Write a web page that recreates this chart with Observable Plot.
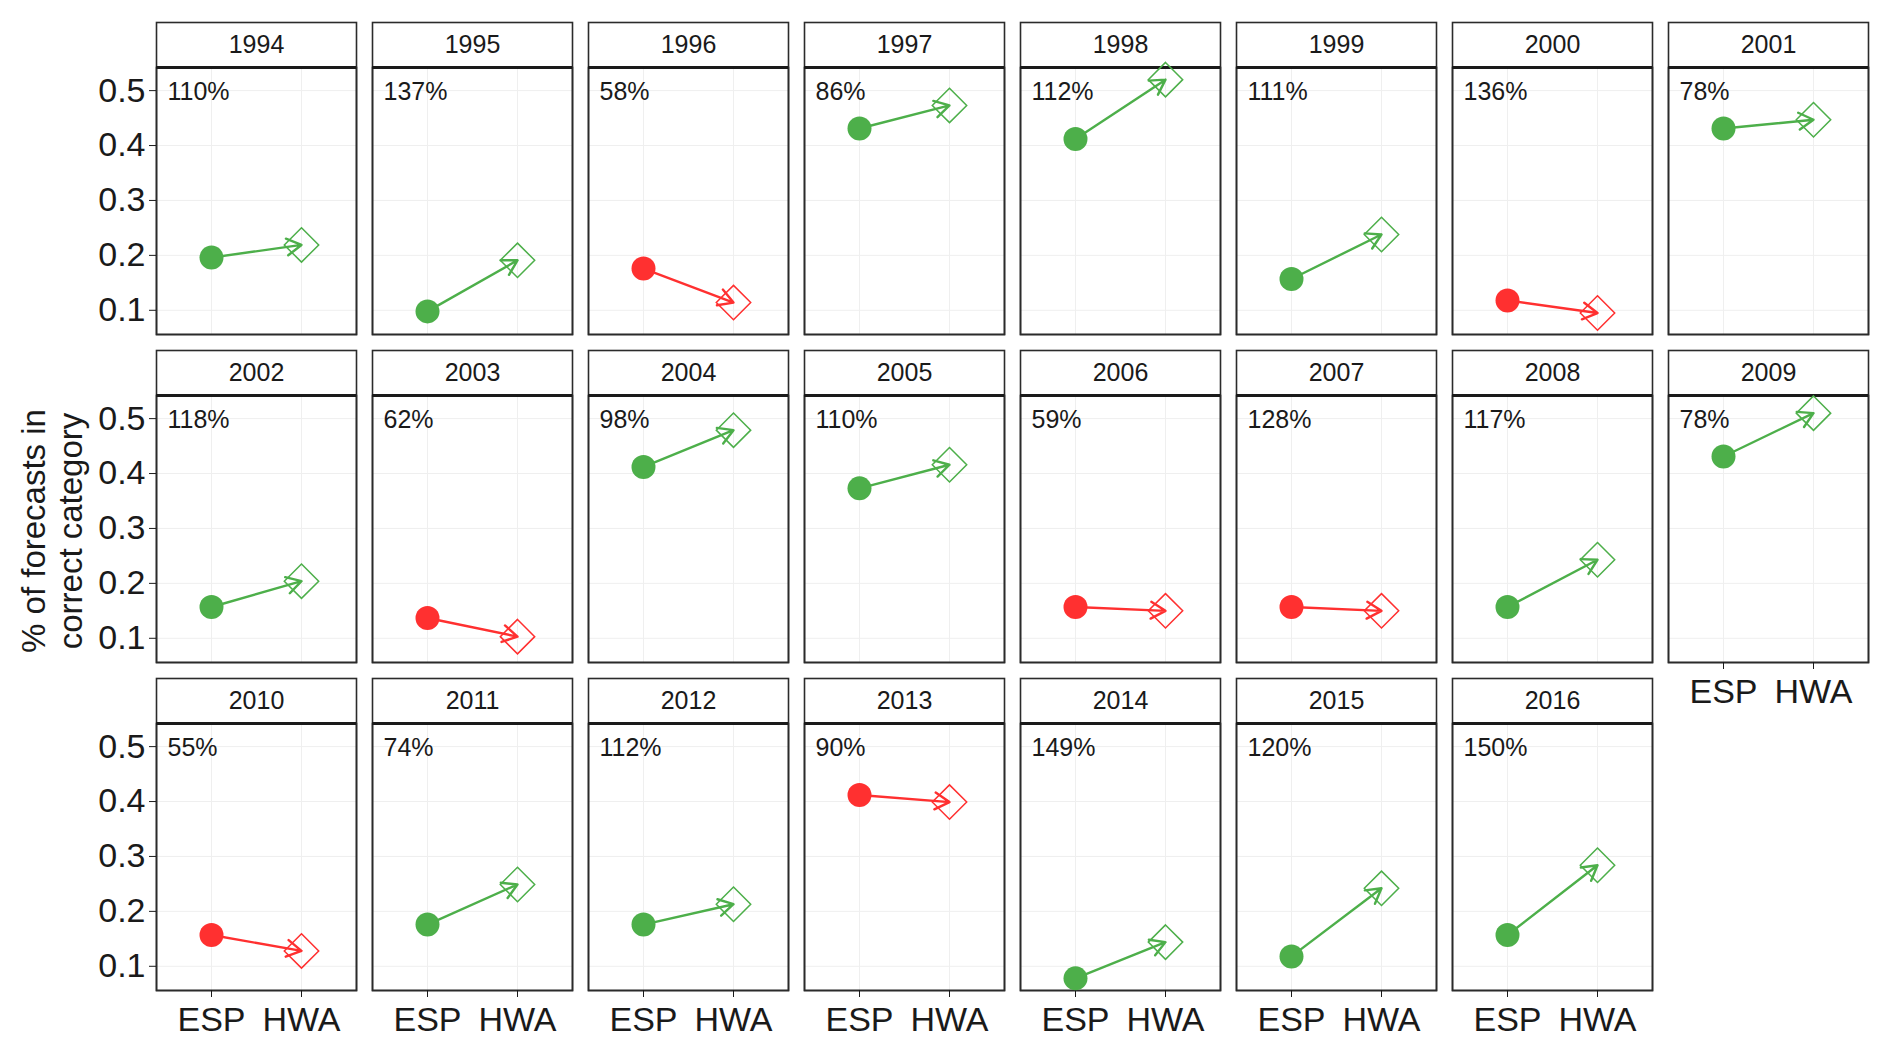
<!DOCTYPE html>
<html>
<head>
<meta charset="utf-8">
<script src="https://cdn.jsdelivr.net/npm/d3@7"></script>
<script src="https://cdn.jsdelivr.net/npm/@observablehq/plot@0.6"></script>
<style>
  html, body { margin: 0; padding: 0; background: #fff; }
  #wrap { position: relative; width: 1892px; height: 1049px; overflow: hidden; }
  #ytitle {
    position: absolute; left: 52px; top: 531px;
    transform: translate(-50%, -50%) rotate(-90deg);
    font-family: "Liberation Sans", Arial, sans-serif;
    font-size: 33px; line-height: 37px; text-align: center;
    white-space: nowrap; color: #1a1a1a;
  }
</style>
</head>
<body>
<div id="wrap">
  <div id="chart"></div>
  <div id="ytitle">% of forecasts in<br>correct category</div>
</div>
<script>
// ---- data ----
const years = [1994, 1995, 1996, 1997, 1998, 1999, 2000, 2001,
               2002, 2003, 2004, 2005, 2006, 2007, 2008, 2009,
               2010, 2011, 2012, 2013, 2014, 2015, 2016];
const espValues = [0.196, 0.098, 0.176, 0.431, 0.412, 0.157, 0.118, 0.431,
                   0.157, 0.137, 0.412, 0.373, 0.157, 0.157, 0.157, 0.431,
                   0.157, 0.176, 0.176, 0.412, 0.078, 0.118, 0.157];
const hwaValues = [0.219, 0.191, 0.114, 0.473, 0.520, 0.238, 0.095, 0.447,
                   0.204, 0.103, 0.479, 0.416, 0.150, 0.150, 0.243, 0.510,
                   0.128, 0.249, 0.213, 0.399, 0.144, 0.242, 0.284];
const pctLabels = [110, 137, 58, 86, 112, 111, 136, 78,
                   118, 62, 98, 110, 59, 128, 117, 78,
                   55, 74, 112, 90, 149, 120, 150];
const methods = ["ESP", "HWA"];
const yTicks = [0.1, 0.2, 0.3, 0.4, 0.5];
const nCols = 8;

// ---- tables for the library ----
const panels = years.map((year, i) => ({
  year, col: i % nCols, row: Math.floor(i / nCols),
  esp: espValues[i], hwa: hwaValues[i], pct: pctLabels[i],
  change: hwaValues[i] > espValues[i] ? "better" : "worse"
}));
const points = panels.flatMap(p => [
  {...p, method: methods[0], value: p.esp},
  {...p, method: methods[1], value: p.hwa}
]);
const ext = d3.extent(points, d => d.value);
const pad = (ext[1] - ext[0]) * 0.05;
const yDomain = [ext[0] - pad, ext[1] + pad];

const stripH = 45;
const font = '"Liberation Sans", Arial, sans-serif';
const facet = {fx: "col", fy: "row"};

const chart = Plot.plot({
  width: 1892, height: 1049,
  marginTop: 65.5, marginBottom: 58, marginLeft: 155, marginRight: 22,
  style: {fontFamily: font, fontSize: "25px", color: "#1a1a1a", background: "white", overflow: "visible"},
  fx: {axis: null, paddingInner: 0.0734, paddingOuter: 0},
  fy: {axis: null, paddingInner: 0.185, paddingOuter: 0},
  x: {type: "point", domain: methods, padding: 0.6},
  y: {domain: yDomain},
  color: {domain: ["better", "worse"], range: ["#4DAF4A", "#FF3030"]},
  marks: [
    Plot.gridY(yTicks, {stroke: "#efefef", strokeOpacity: 1, strokeWidth: 1}),
    Plot.gridX(methods, {stroke: "#efefef", strokeOpacity: 1, strokeWidth: 1}),
    Plot.frame({stroke: "#2b2b2b", strokeWidth: 1.6}),
    Plot.frame({insetTop: -stripH, stroke: "#2b2b2b", strokeWidth: 1.6}),
    Plot.ruleY([yDomain[1]], {stroke: "#1a1a1a", strokeWidth: 2.8}),
    Plot.axisY(yTicks, {anchor: "left", facetAnchor: "left", tickSize: 7, tickPadding: 4,
      fontSize: 34, tickFormat: d3.format(".1f"), label: null, color: "#1a1a1a"}),
    Plot.axisX(methods, {anchor: "bottom", facetAnchor: "bottom-empty", tickSize: 7, tickPadding: 9,
      fontSize: 34, label: null, color: "#1a1a1a"}),
    Plot.text(panels, {...facet, text: d => String(d.year), frameAnchor: "top", dy: -stripH / 2,
      lineAnchor: "middle", fontSize: 25, fill: "#1a1a1a"}),
    Plot.text(panels, {...facet, text: d => d.pct + "%", frameAnchor: "top-left", dx: 11, dy: 24,
      lineAnchor: "middle", textAnchor: "start", fontSize: 25, fill: "#1a1a1a"}),
    Plot.arrow(panels, {...facet, x1: () => methods[0], x2: () => methods[1], y1: "esp", y2: "hwa",
      stroke: "change", strokeWidth: 2.4, headAngle: 60, headLength: 10.5}),
    Plot.dot(points.filter(d => d.method === methods[0]), {...facet, x: "method", y: "value",
      r: 12, fill: "change", stroke: null}),
    Plot.dot(points.filter(d => d.method === methods[1]), {...facet, x: "method", y: "value",
      r: 15.5, symbol: "diamond2", fill: "none", stroke: "change", strokeWidth: 1.5})
  ]
});
document.getElementById("chart").appendChild(chart);
</script>
</body>
</html>
